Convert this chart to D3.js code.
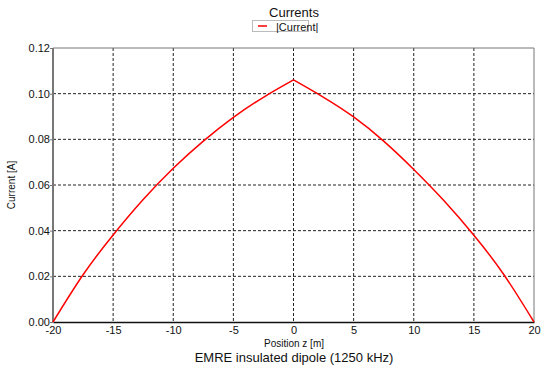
<!DOCTYPE html>
<html>
<head>
<meta charset="utf-8">
<script src="https://cdn.jsdelivr.net/npm/d3@7"></script>
<style>
  body { margin: 0; background: #fff; }
  text { font-family: "Liberation Sans", Arial, sans-serif; fill: #111; }
</style>
</head>
<body>
<svg width="546" height="371"></svg>
<script>
// position along the dipole [m] and |current| [A]
var posLeft = [-20, -17.5, -15, -12.5, -10, -7.5, -5, -2.5, 0];
var curLeft = [0, 0.0207, 0.0381, 0.0536, 0.0673, 0.0792, 0.0896, 0.0984, 0.106];
var posRight = [0, 2.5, 5, 7.5, 10, 12.5, 15, 17.5, 20];
var curRight = [0.106, 0.0984, 0.0898, 0.0792, 0.0668, 0.0532, 0.0380, 0.0207, 0];

var xTicks = [-20, -15, -10, -5, 0, 5, 10, 15, 20];
var yTicks = [0, 0.02, 0.04, 0.06, 0.08, 0.10, 0.12];

var svg = d3.select("svg"),
    pLeft = 53, pRight = 534, pTop = 48, pBottom = 322;

var x = d3.scaleLinear().domain([-20, 20]).range([pLeft, pRight]);
var y = d3.scaleLinear().domain([0, 0.12]).range([pBottom, pTop]);

var g = svg.append("g");

// grid
g.selectAll(".vgrid")
  .data(xTicks.slice(1, -1))
  .enter().append("line")
  .attr("x1", function(d) { return x(d); })
  .attr("x2", function(d) { return x(d); })
  .attr("y1", pTop).attr("y2", pBottom)
  .style("stroke", "#222").style("stroke-dasharray", "3,2").style("stroke-width", 1);

g.selectAll(".hgrid")
  .data(yTicks.slice(1, -1))
  .enter().append("line")
  .attr("y1", function(d) { return y(d); })
  .attr("y2", function(d) { return y(d); })
  .attr("x1", pLeft).attr("x2", pRight)
  .style("stroke", "#222").style("stroke-dasharray", "3,2").style("stroke-width", 1);

// frame: top/right grey, left grey thicker, bottom black
g.append("line").attr("x1", pLeft).attr("x2", pRight).attr("y1", pTop).attr("y2", pTop)
  .style("stroke", "#777").style("stroke-width", 1);
g.append("line").attr("x1", pRight).attr("x2", pRight).attr("y1", pTop).attr("y2", pBottom)
  .style("stroke", "#777").style("stroke-width", 1);
g.append("line").attr("x1", pLeft).attr("x2", pLeft).attr("y1", pTop).attr("y2", pBottom)
  .style("stroke", "#777").style("stroke-width", 2);

// axes
var xAxis = d3.axisBottom(x).tickValues(xTicks).tickSize(0).tickPadding(4)
  .tickFormat(function(d) { return String(d); });
var gx = g.append("g").attr("transform", "translate(0," + pBottom + ")").call(xAxis);
gx.select(".domain").style("stroke", "#111").style("stroke-width", 1.5);
gx.selectAll("text").style("font-size", "11px").attr("fill", "#111");

var yAxis = d3.axisLeft(y).tickValues(yTicks).tickSize(3).tickPadding(0)
  .tickFormat(d3.format(".2f"));
var gy = g.append("g").attr("transform", "translate(" + pLeft + ",0)").call(yAxis);
gy.select(".domain").remove();
gy.selectAll("line").style("stroke", "#777");
gy.selectAll("text").style("font-size", "11px").attr("fill", "#111");

// curve, two halves so the peak keeps its point
var line = d3.line()
  .x(function(d) { return x(d[0]); })
  .y(function(d) { return y(d[1]); })
  .curve(d3.curveNatural);

[[posLeft, curLeft], [posRight, curRight]].forEach(function(s) {
  g.append("path")
    .datum(d3.zip(s[0], s[1]))
    .attr("d", line)
    .style("fill", "none").style("stroke", "#f00").style("stroke-width", 1.5);
});

// labels
svg.append("text").attr("x", 294).attr("y", 17).attr("text-anchor", "middle")
  .style("font-size", "13px").text("Currents");

svg.append("text").attr("x", 294).attr("y", 347).attr("text-anchor", "middle")
  .style("font-size", "10px").text("Position z [m]");

svg.append("text").attr("x", 294).attr("y", 362).attr("text-anchor", "middle")
  .style("font-size", "13px").text("EMRE insulated dipole (1250 kHz)");

svg.append("text").attr("transform", "translate(15,185) rotate(-90)")
  .attr("text-anchor", "middle").style("font-size", "10px").text("Current [A]");

// legend (text runs past the box edge, like the original)
var lg = svg.append("g");
lg.append("rect").attr("x", 252.5).attr("y", 20.5).attr("width", 56).attr("height", 11)
  .style("fill", "#fff").style("stroke", "#bbb");
lg.append("line").attr("x1", 258).attr("x2", 267).attr("y1", 26).attr("y2", 26)
  .style("stroke", "#f00").style("stroke-width", 1.5);
lg.append("text").attr("x", 276).attr("y", 30.5).style("font-size", "11px").text("|Current|");
</script>
</body>
</html>
